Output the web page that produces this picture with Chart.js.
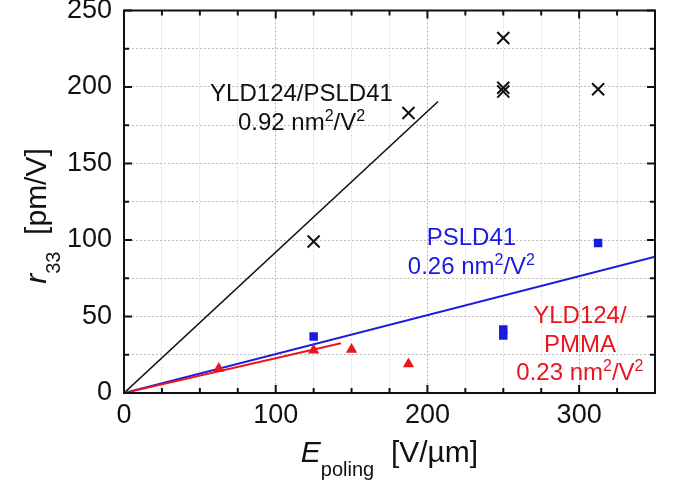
<!DOCTYPE html>
<html>
<head>
<meta charset="utf-8">
<script src="https://cdn.jsdelivr.net/npm/chart.js@4.4.0/dist/chart.umd.min.js"></script>
<style>
html, body { margin: 0; padding: 0; background: #fff; }
#wrap { width: 674px; height: 488px; position: relative; }
</style>
</head>
<body>
<div id="wrap"><canvas id="c" width="674" height="488"></canvas></div>
<script>
// ---- data ----
const xTickLabels = [0, 100, 200, 300];
const yTickLabels = [0, 50, 100, 150, 200, 250];

// YLD124/PSLD41 (black crosses)
const yldPsldE = [125, 187.5, 250, 250, 250, 312.5];
const yldPsldR = [99, 183, 232, 197, 199.5, 198.5];
// PSLD41 (blue squares)
const psldE = [125, 250, 250, 312.5];
const psldR = [37, 37.5, 41.5, 98];
// YLD124/PMMA (red triangles)
const pmmaE = [62.5, 125, 150, 187.5];
const pmmaR = [16, 28, 28.5, 19];

// linear fits through origin (end points)
const fitYldPsldE = [0, 207];
const fitYldPsldR = [0, 190.5];
const fitPsldE = [0, 350];
const fitPsldR = [0, 89];
const fitPmmaE = [0, 143];
const fitPmmaR = [0, 32.5];

const BLACK = '#111111';
const BLUE = '#1a1ae0';
const RED = '#e8161e';
const FONT = '"Liberation Sans", Arial, Helvetica, sans-serif';

function pts(xs, ys) { return xs.map((x, i) => ({ x: x, y: ys[i] })); }

// annotation texts (positions in data units: center x, baseline y)
const annotations = [
  { color: BLACK, x: 117, lines: [
    { y: 191, parts: [{ t: 'YLD124/PSLD41' }] },
    { y: 172, parts: [{ t: '0.92 nm' }, { t: '2', sup: true }, { t: '/V' }, { t: '2', sup: true }] }
  ]},
  { color: BLUE, x: 229, lines: [
    { y: 96.5, parts: [{ t: 'PSLD41' }] },
    { y: 77.6, parts: [{ t: '0.26 nm' }, { t: '2', sup: true }, { t: '/V' }, { t: '2', sup: true }] }
  ]},
  { color: RED, x: 300.5, lines: [
    { y: 45.5, parts: [{ t: 'YLD124/' }] },
    { y: 26.9, parts: [{ t: 'PMMA' }] },
    { y: 8.5, parts: [{ t: '0.23 nm' }, { t: '2', sup: true }, { t: '/V' }, { t: '2', sup: true }] }
  ]}
];

function drawRich(ctx, parts, cx, baseline, size, color) {
  const fontFor = (p) => {
    const s = (p.sup || p.sub) ? Math.round(size * 0.66) : size;
    return (p.it ? 'italic ' : '') + s + 'px ' + FONT;
  };
  let total = 0;
  const widths = parts.map(p => { ctx.font = fontFor(p); const w = ctx.measureText(p.t).width; total += w; return w; });
  let x = cx - total / 2;
  ctx.fillStyle = color;
  ctx.textBaseline = 'alphabetic';
  ctx.textAlign = 'left';
  parts.forEach((p, i) => {
    ctx.font = fontFor(p);
    let y = baseline;
    if (p.sup) y -= size * 0.38;
    if (p.sub) y += size * 0.45;
    ctx.fillText(p.t, x, y);
    x += widths[i];
  });
}

const decorPlugin = {
  id: 'decor',
  afterDatasetsDraw(chart) {
    const ctx = chart.ctx;
    const a = chart.chartArea;
    const xs = chart.scales.x, ys = chart.scales.y;
    ctx.save();
    ctx.strokeStyle = BLACK;
    ctx.lineWidth = 2;
    ctx.strokeRect(a.left, a.top, a.right - a.left, a.bottom - a.top);
    xs.ticks.forEach(t => {
      const px = xs.getPixelForValue(t.value);
      const len = (t.value % 100 === 0) ? 8 : 5;
      ctx.beginPath();
      ctx.moveTo(px, a.bottom); ctx.lineTo(px, a.bottom - len);
      ctx.moveTo(px, a.top); ctx.lineTo(px, a.top + len);
      ctx.stroke();
    });
    ys.ticks.forEach(t => {
      const py = ys.getPixelForValue(t.value);
      const len = (t.value % 50 === 0) ? 8 : 5;
      ctx.beginPath();
      ctx.moveTo(a.left, py); ctx.lineTo(a.left + len, py);
      ctx.moveTo(a.right, py); ctx.lineTo(a.right - len, py);
      ctx.stroke();
    });
    ctx.restore();
  },
  afterDraw(chart) {
    const ctx = chart.ctx;
    const a = chart.chartArea;
    const xs = chart.scales.x, ys = chart.scales.y;
    ctx.save();
    annotations.forEach(an => {
      const cx = xs.getPixelForValue(an.x);
      an.lines.forEach(l => {
        drawRich(ctx, l.parts, cx, ys.getPixelForValue(l.y), 24, an.color);
      });
    });
    drawRich(ctx, [{ t: 'E', it: true }, { t: 'poling', sub: true }, { t: '  [V/µm]' }],
      (a.left + a.right) / 2, 462, 30, BLACK);
    ctx.save();
    ctx.translate(46, 216);
    ctx.rotate(-Math.PI / 2);
    drawRich(ctx, [{ t: 'r', it: true }, { t: '33', sub: true }, { t: '  [pm/V]' }], 0, 0, 30, BLACK);
    ctx.restore();
    ctx.restore();
  }
};

new Chart(document.getElementById('c'), {
  type: 'scatter',
  data: {
    datasets: [
      { label: 'YLD124/PSLD41 fit', type: 'line', data: pts(fitYldPsldE, fitYldPsldR),
        borderColor: BLACK, borderWidth: 1.6, pointRadius: 0, fill: false, order: 5 },
      { label: 'PSLD41 fit', type: 'line', data: pts(fitPsldE, fitPsldR),
        borderColor: BLUE, borderWidth: 2, pointRadius: 0, fill: false, order: 4 },
      { label: 'YLD124/PMMA fit', type: 'line', data: pts(fitPmmaE, fitPmmaR),
        borderColor: RED, borderWidth: 2, pointRadius: 0, fill: false, order: 3 },
      { label: 'YLD124/PSLD41', data: pts(yldPsldE, yldPsldR), pointStyle: 'crossRot',
        radius: 8.5, borderColor: BLACK, borderWidth: 2, backgroundColor: BLACK, order: 2 },
      { label: 'PSLD41', data: pts(psldE, psldR), pointStyle: 'rect',
        radius: 6, borderColor: BLUE, borderWidth: 0, backgroundColor: BLUE, order: 1 },
      { label: 'YLD124/PMMA', data: pts(pmmaE, pmmaR), pointStyle: 'triangle',
        radius: 6.5, borderColor: RED, borderWidth: 0, backgroundColor: RED, order: 0 }
    ]
  },
  options: {
    responsive: false,
    animation: false,
    events: [],
    layout: { padding: { left: 0, top: 10, right: 19, bottom: 0 } },
    plugins: { legend: { display: false }, tooltip: { enabled: false } },
    scales: {
      x: {
        type: 'linear', min: 0, max: 350,
        afterFit(s) { s.height = 95; s.paddingLeft = 0; s.paddingRight = 0; },
        afterBuildTicks(s) { s.ticks = []; for (let v = 0; v <= 350; v += 25) s.ticks.push({ value: v }); },
        ticks: {
          autoSkip: false, maxRotation: 0, padding: 6, color: BLACK,
          font: { family: FONT, size: 27 },
          callback: (v) => xTickLabels.includes(v) ? String(v) : ''
        },
        grid: {
          drawTicks: false,
          color: (c) => (c.tick && c.tick.value % 100 === 0) ? '#b4b4b4' : '#dcdcdc',
          lineWidth: 1
        },
        border: { display: false, dash: [2, 2] }
      },
      y: {
        type: 'linear', min: 0, max: 250,
        afterFit(s) { s.width = 124; s.paddingTop = 0; s.paddingBottom = 0; },
        afterBuildTicks(s) { s.ticks = []; for (let v = 0; v <= 250; v += 25) s.ticks.push({ value: v }); },
        ticks: {
          autoSkip: false, padding: 12, color: BLACK,
          font: { family: FONT, size: 27 },
          callback: (v) => yTickLabels.includes(v) ? String(v) : ''
        },
        grid: {
          drawTicks: false,
          color: '#bdbdbd',
          lineWidth: 1
        },
        border: { display: false, dash: [2, 2] }
      }
    }
  },
  plugins: [decorPlugin]
});
</script>
</body>
</html>
